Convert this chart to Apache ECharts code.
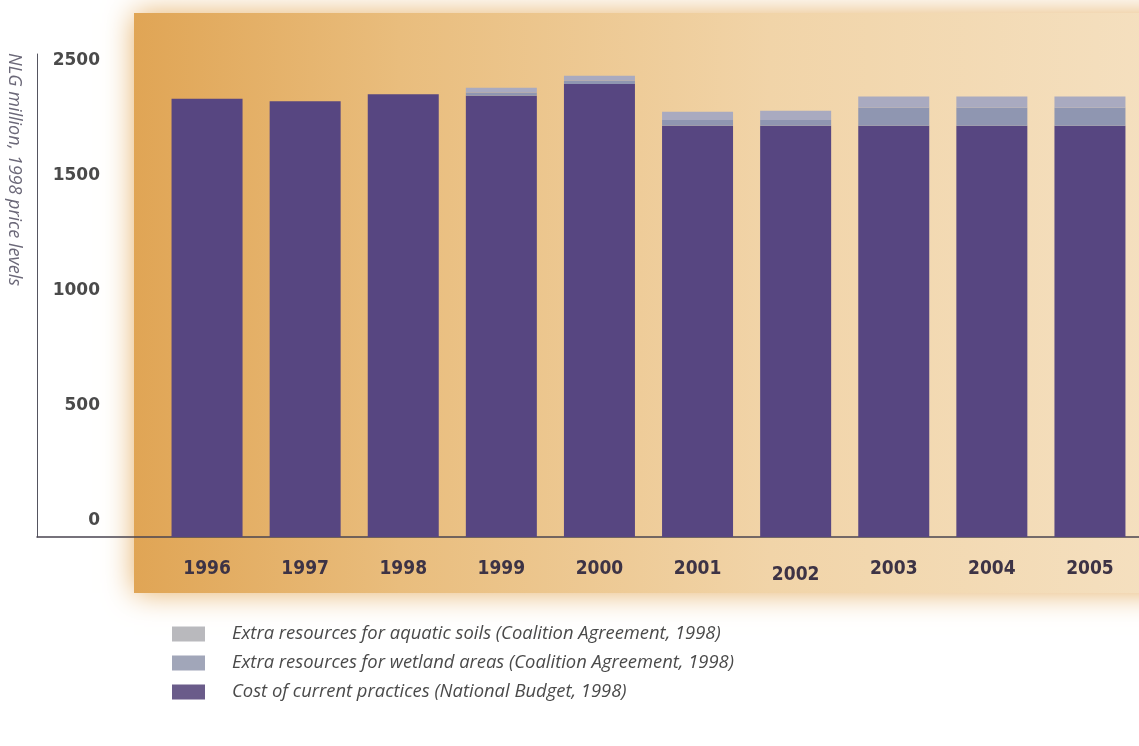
<!DOCTYPE html>
<html>
<head>
<meta charset="utf-8">
<script src="https://cdn.jsdelivr.net/npm/echarts@6/dist/echarts.min.js"></script>
<style>
html,body{margin:0;padding:0;background:#fff;}
#chart{width:1139px;height:746px;}
</style>
</head>
<body>
<div id="chart"></div>
<script>
// ---- data ----
var years = ['1996', '1997', '1998', '1999', '2000', '2001', '2002', '2003', '2004', '2005'];
var costCurrent = [1905, 1895, 1925, 1918, 1970, 1788, 1788, 1788, 1788, 1788];
var wetland     = [0, 0, 0, 15, 15, 25, 25, 79, 79, 79];
var aquatic     = [0, 0, 0, 20, 20, 36, 40, 48, 48, 48];
var yTickValues = [0, 500, 1000, 1500, 2000];
var yTickLabels = ['0', '500', '1000', '1500', '2500'];
var seriesNames = [
  'Extra resources for aquatic soils (Coalition Agreement, 1998)',
  'Extra resources for wetland areas (Coalition Agreement, 1998)',
  'Cost of current practices (National Budget, 1998)'
];
var yAxisTitle = 'NLG million, 1998 price levels';

var labelFont = '"DejaVu Sans Condensed", "DejaVu Sans", sans-serif';
var chart = echarts.init(document.getElementById('chart'), null, {renderer: 'canvas'});
var option = {
  backgroundColor: '#ffffff',
  animation: false,
  graphic: [
    {
      type: 'rect', silent: true, z: -10,
      shape: {x: 134, y: 13, width: 1060, height: 580},
      style: {
        fill: new echarts.graphic.LinearGradient(0, 0, 1, 0, [
          {offset: 0, color: '#e0a555'},
          {offset: 0.25, color: '#e9bd7d'},
          {offset: 0.6, color: '#f1d4a8'},
          {offset: 1, color: '#f5e1c2'}
        ]),
        shadowBlur: 28,
        shadowColor: 'rgba(228,172,96,0.95)'
      }
    },
    {
      type: 'text', silent: true, z: 10,
      x: 14, y: 53, rotation: -Math.PI / 2,
      style: {
        text: yAxisTitle,
        font: 'italic 18px "Open Sans"',
        fill: '#6b6878',
        align: 'left', verticalAlign: 'middle',
        textAlign: 'left', textVerticalAlign: 'middle'
      }
    }
  ],
  legend: {
    orient: 'vertical',
    left: 172, top: 625, padding: 0,
    itemWidth: 33, itemHeight: 15, itemGap: 11,
    icon: 'rect',
    selectedMode: false,
    textStyle: {
      fontFamily: '"Open Sans"', fontStyle: 'italic', fontSize: 18.4,
      color: '#4a4a4a', padding: [0, 0, 0, 22]
    },
    data: [
      {name: seriesNames[0], itemStyle: {color: '#b9b9bd'}},
      {name: seriesNames[1], itemStyle: {color: '#a1a6b9'}},
      {name: seriesNames[2], itemStyle: {color: '#6a5c8a'}}
    ]
  },
  grid: [
    {left: 37, right: 0, top: 54, bottom: 209, containLabel: false},
    {left: 158, width: 984, top: 54, bottom: 209, containLabel: false}
  ],
  xAxis: [
    {
      type: 'value', gridIndex: 0, min: 0, max: 1,
      splitLine: {show: false}, axisTick: {show: false}, axisLabel: {show: false},
      axisLine: {show: true, lineStyle: {color: '#4a4450', width: 1.5}}
    },
    {
      type: 'category', gridIndex: 1, data: years,
      axisLine: {show: false}, axisTick: {show: false}, splitLine: {show: false},
      axisLabel: {
        interval: 0,
        margin: 23,
        fontFamily: labelFont, fontWeight: 'bold', fontSize: 19, color: '#3d3345',
        formatter: function (v) { return v === '2002' ? '{low|' + v + '}' : v; },
        rich: {
          low: {padding: [6, 0, 0, 0], fontFamily: labelFont, fontWeight: 'bold', fontSize: 19, color: '#3d3345'}
        }
      }
    }
  ],
  yAxis: [
    {
      type: 'value', gridIndex: 0,
      min: 0, max: 2100, interval: 500,
      splitLine: {show: false},
      axisTick: {show: false},
      axisLine: {show: true, lineStyle: {color: '#555560', width: 1}},
      axisLabel: {
        inside: true,
        align: 'right',
        margin: 63,
        verticalAlign: 'bottom',
        padding: [0, 0, 8, 0],
        fontFamily: '"DejaVu Sans", sans-serif',
        fontWeight: 'bold', fontSize: 17, color: '#4a4a4a',
        formatter: function (v) {
          var i = yTickValues.indexOf(v);
          return i >= 0 ? yTickLabels[i] : '';
        }
      }
    },
    {
      type: 'value', gridIndex: 1, min: 0, max: 2100, show: false
    }
  ],
  series: [
    {
      name: seriesNames[2], type: 'bar', stack: 'total', barWidth: 71,
      xAxisIndex: 1, yAxisIndex: 1,
      itemStyle: {color: '#574681'}, data: costCurrent
    },
    {
      name: seriesNames[1], type: 'bar', stack: 'total', barWidth: 71,
      xAxisIndex: 1, yAxisIndex: 1,
      itemStyle: {color: '#8f96b1'}, data: wetland
    },
    {
      name: seriesNames[0], type: 'bar', stack: 'total', barWidth: 71,
      xAxisIndex: 1, yAxisIndex: 1,
      itemStyle: {color: '#a9aac0'}, data: aquatic
    }
  ]
};
chart.setOption(option);
</script>
</body>
</html>
